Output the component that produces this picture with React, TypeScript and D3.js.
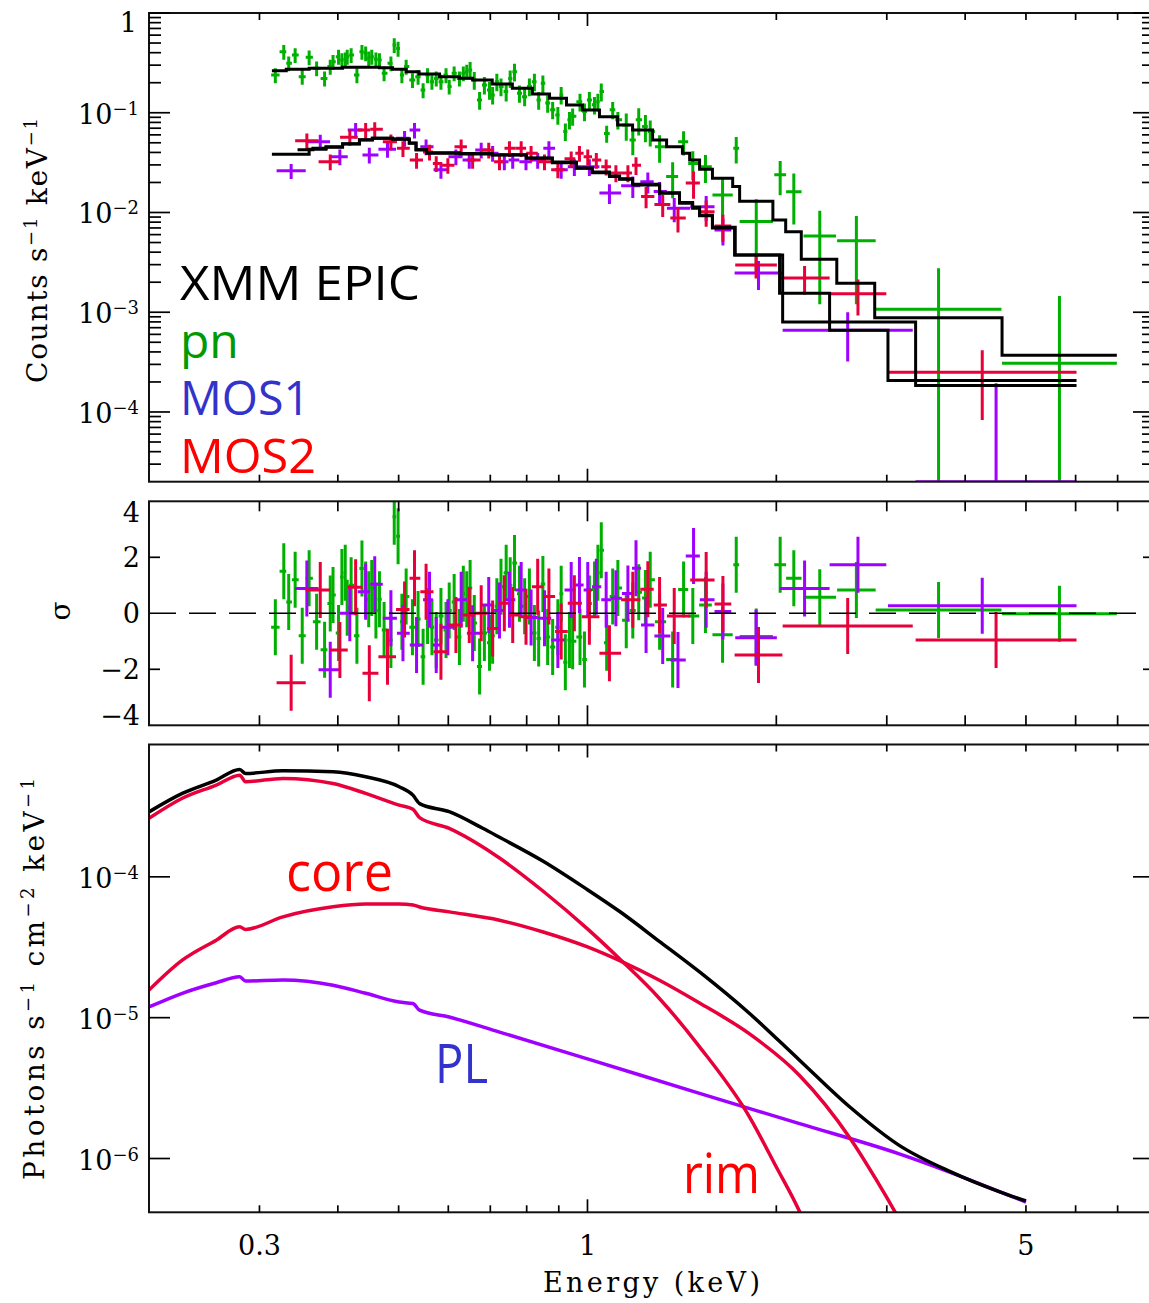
import React from "react";
import * as d3 from "d3";

/* ---------------- axes ---------------- */
const energyExtent: [number, number] = [0.2, 8];
const energyMinorTicks = [0.3, 0.4, 0.5, 0.6, 0.7, 0.8, 0.9, 2, 3, 4, 5, 6, 7];
const energyMajorTicks = [1];
const energyLabels = [0.3, 1, 5];

const rateExtent: [number, number] = [2e-5, 1];
const rateDecades = [1e-4, 1e-3, 1e-2, 1e-1, 1];
const sigmaExtent: [number, number] = [-4, 4];
const sigmaTicks = [-2, 2];
const sigmaLabels = [4, 2, 0, -2, -4];
const fluxExtent: [number, number] = [4.15e-7, 8.7e-4];
const fluxDecades = [1e-6, 1e-5, 1e-4];

/* ---------------- EPIC-pn spectrum (counts s^-1 keV^-1) ---------------- */
const pnEnergy = [
  0.318, 0.328, 0.334, 0.342, 0.351, 0.36, 0.37, 0.381, 0.389, 0.393,
  0.401, 0.406, 0.411, 0.414, 0.42, 0.429, 0.437, 0.443, 0.448, 0.453,
  0.46, 0.466, 0.474, 0.486, 0.492, 0.499, 0.506, 0.514, 0.526, 0.537,
  0.547, 0.556, 0.565, 0.574, 0.584, 0.595, 0.602, 0.613, 0.625, 0.634,
  0.642, 0.65, 0.66, 0.673, 0.685, 0.698, 0.706, 0.717, 0.728, 0.742,
  0.753, 0.765, 0.779, 0.794, 0.808, 0.823, 0.836, 0.849, 0.864, 0.88,
  0.897, 0.908, 0.922, 0.936, 0.947, 0.973, 0.989, 1.007, 1.026, 1.039,
  1.052, 1.073, 1.097, 1.118, 1.153, 1.181, 1.207, 1.237, 1.259, 1.303,
  1.367, 1.423, 1.472, 1.542,
];
const pnRate = [
  0.239, 0.409, 0.313, 0.379, 0.23, 0.36, 0.279, 0.221, 0.29, 0.325,
  0.365, 0.338, 0.344, 0.365, 0.379, 0.239, 0.409, 0.395, 0.351, 0.365,
  0.344, 0.338, 0.249, 0.313, 0.478, 0.44, 0.239, 0.29, 0.213, 0.23,
  0.169, 0.239, 0.205, 0.221, 0.205, 0.239, 0.183, 0.249, 0.221, 0.249,
  0.258, 0.268, 0.213, 0.134, 0.19, 0.169, 0.151, 0.205, 0.183, 0.163,
  0.221, 0.258, 0.157, 0.145, 0.183, 0.205, 0.134, 0.197, 0.125, 0.107,
  0.095, 0.151, 0.065, 0.085, 0.092, 0.129, 0.103, 0.134, 0.12, 0.129,
  0.163, 0.062, 0.107, 0.085, 0.0754, 0.0534, 0.085, 0.0727, 0.0648, 0.0456,
  0.0229, 0.0513, 0.031, 0.0287,
];
const pnError = [
  0.041, 0.07, 0.053, 0.064, 0.039, 0.061, 0.047, 0.038, 0.049, 0.055,
  0.062, 0.057, 0.058, 0.062, 0.064, 0.041, 0.07, 0.067, 0.06, 0.062,
  0.058, 0.057, 0.042, 0.053, 0.081, 0.075, 0.041, 0.049, 0.036, 0.039,
  0.029, 0.041, 0.035, 0.038, 0.035, 0.041, 0.031, 0.042, 0.038, 0.042,
  0.044, 0.054, 0.043, 0.027, 0.038, 0.034, 0.03, 0.041, 0.037, 0.033,
  0.044, 0.052, 0.031, 0.029, 0.037, 0.041, 0.027, 0.039, 0.025, 0.021,
  0.019, 0.03, 0.013, 0.017, 0.018, 0.026, 0.021, 0.027, 0.024, 0.026,
  0.033, 0.012, 0.021, 0.017, 0.023, 0.016, 0.026, 0.022, 0.019, 0.014,
  0.009, 0.014, 0.01, 0.009,
];
const pnSigma = [
  -0.5, 1.5, 0.4, 1.2, -0.8, 1.25, -0.3, -1.3, 0.35, 0.65,
  -0.7, 1.3, 1.45, 0.2, 1.0, -0.8, 1.6, 0.85, 0.5, 0.9,
  0.1, 0.5, -0.6, -0.95, 3.45, 2.75, -0.3, 0.6, -0.5, -0.2,
  -1.55, -0.1, -0.5, -0.95, -0.1, -0.6, 0.1, 0.4, -0.85, 0.7,
  0.5, 0.9, -0.35, -1.9, -0.7, -1.05, -0.8, 0.25, 0.95, 1.45,
  1.0, 1.8, 0.7, 0.25, 0.6, -0.7, -0.9, 1.05, -0.85, -1.2,
  -0.5, 0.7, -1.75, -0.95, -1.0, -0.85, -1.65, 0.35, 0.85, 1.45,
  2.25, -1.05, 0.6, 0.9, -0.25, 0.1, 0.75, 0.55, 1.2, -0.3,
  -1.65, 0.85, -0.1, 0.3,
];
// wide (grouped) pn channels
const pnWideLo = [1.582, 1.708, 1.748, 1.985, 2.073, 2.21, 2.5, 2.88, 4.58];
const pnWideHi = [1.704, 1.745, 1.975, 2.073, 2.194, 2.49, 2.88, 4.57, 6.98];
const pnWideRate = [0.015, 0.044, 0.0081, 0.0239, 0.0161, 0.0058, 0.0052, 0.00107, 0.000308];
const pnWideError = [0.0075, 0.013, 0.0055, 0.009, 0.0085, 0.0046, 0.004, 0.00169, 0.00115];
const pnWideSigma = [-0.77, 1.73, -0.83, 1.73, 1.25, 0.57, 0.83, 0.12, -0.02];

/* ---------------- MOS1 spectrum ---------------- */
const mos1Energy = [
  0.337, 0.375, 0.403, 0.427, 0.449, 0.48, 0.511, 0.53, 0.553, 0.584,
  0.617, 0.648, 0.677, 0.706, 0.737, 0.76, 0.798, 0.833, 0.868, 0.908,
  0.953, 1.007, 1.084, 1.181, 1.248, 1.303, 1.375, 1.546, 1.644,
];
const mos1Rate = [
  0.0262, 0.0512, 0.0362, 0.0671, 0.0377, 0.0431, 0.0555, 0.0671, 0.0456, 0.0268,
  0.0362, 0.0335, 0.0424, 0.0393, 0.0323, 0.0335, 0.0323, 0.0335, 0.044, 0.0268,
  0.0287, 0.0287, 0.0157, 0.0185, 0.0203, 0.0162, 0.011, 0.0114, 0.00668,
];
const mos1Error = [
  0.0045, 0.009, 0.0065, 0.012, 0.0068, 0.0078, 0.01, 0.012, 0.0082, 0.005,
  0.0065, 0.006, 0.0076, 0.0071, 0.0058, 0.006, 0.0058, 0.006, 0.0079, 0.005,
  0.0055, 0.0055, 0.0035, 0.0045, 0.0048, 0.004, 0.003, 0.0032, 0.002,
];
const mos1Sigma = [
  -2.48, 0.83, -1.31, 0.93, -2.14, -1.55, 0.14, 1.25, 0.77, -1.37,
  -0.42, -0.06, 0.0, -0.54, 0.36, -0.06, -0.12, 0.95, 0.6, -0.65,
  0.36, -0.12, -1.43, 0.48, 0.86, 0.3, -0.1, 1.19, 0.33,
];
const mos1WideLo = [1.716, 2.047, 3.335];
const mos1WideHi = [2.045, 3.3, 6.02];
const mos1WideRate = [0.00247, 0.00066, 0];
const mos1WideError = [0.0008, 0.00034, 0.000194];
const mos1WideSigma = [-1.49, -0.45, -0.95];

/* ---------------- MOS2 spectrum ---------------- */
const mos2Energy = [
  0.357, 0.389, 0.418, 0.443, 0.458, 0.486, 0.508, 0.534, 0.56, 0.574,
  0.599, 0.629, 0.656, 0.696, 0.724, 0.751, 0.784, 0.813, 0.854, 0.897,
  0.942, 0.971, 1.001, 1.033, 1.071, 1.11, 1.16, 1.195, 1.24, 1.318,
  1.394, 1.476, 1.546, 1.644,
];
const mos2Rate = [
  0.0524, 0.0323, 0.0568, 0.0671, 0.0682, 0.0512, 0.044, 0.0335, 0.0405, 0.031,
  0.0297, 0.0456, 0.0335, 0.0424, 0.0323, 0.044, 0.044, 0.0393, 0.0323, 0.0268,
  0.0346, 0.0393, 0.0362, 0.0335, 0.0287, 0.0249, 0.0249, 0.0297, 0.0145, 0.012,
  0.0088, 0.0197, 0.0102, 0.0073,
];
const mos2Error = [
  0.0095, 0.0058, 0.01, 0.012, 0.012, 0.0092, 0.0079, 0.006, 0.0073, 0.0056,
  0.0053, 0.0082, 0.006, 0.0076, 0.0058, 0.0079, 0.0079, 0.0071, 0.0058, 0.0048,
  0.0062, 0.0071, 0.0065, 0.006, 0.0052, 0.0048, 0.0048, 0.006, 0.0035, 0.003,
  0.0025, 0.006, 0.003, 0.0022,
];
const mos2Sigma = [
  0.89, -2.02, 0.0, 0.77, 1.04, -0.18, -0.71, -1.13, 0.48, -1.13,
  -0.5, 0.48, -0.71, 0.3, 0.1, 0.48, 0.83, -0.15, -0.18, -0.95,
  0.83, 1.01, 0.83, 0.95, 0.48, 0.54, 0.71, 1.61, -0.42, -0.81,
  -1.67, 2.05, 0.48, 0.06,
];
const mos2WideLo = [1.72, 2.024, 2.432, 3.013];
const mos2WideHi = [2.004, 2.432, 2.995, 6.02];
const mos2WideRate = [0.00298, 0.0022, 0.00153, 0.00025];
const mos2WideError = [0.0008, 0.0007, 0.0006, 0.000167];
const mos2WideSigma = [-0.87, 0.89, 1.73, 0.27];

/* ---------------- folded models (step functions) ---------------- */
const pnModelEdges = [
  0.314, 0.331, 0.36, 0.407, 0.466, 0.489, 0.514, 0.539, 0.581, 0.625,
  0.656, 0.705, 0.759, 0.817, 0.87, 0.926, 0.982, 1.045, 1.117, 1.18,
  1.27, 1.337, 1.417, 1.455, 1.509, 1.582, 1.704, 1.748, 1.975, 2.07,
  2.192, 2.497, 2.87, 4.58, 6.98,
];
const pnModelRate = [
  0.264, 0.273, 0.279, 0.2855, 0.283, 0.273, 0.258, 0.2446, 0.23, 0.2215,
  0.213, 0.194, 0.176, 0.154, 0.1396, 0.1196, 0.1066, 0.0913, 0.0754, 0.0671,
  0.0533, 0.0457, 0.0392, 0.0336, 0.0271, 0.022, 0.0182, 0.013, 0.0084, 0.0064,
  0.0034, 0.00195, 0.00088, 0.00037,
];
const mos1ModelEdges = [
  0.314, 0.36, 0.383, 0.407, 0.433, 0.454, 0.489, 0.52, 0.533, 0.554,
  0.625, 0.705, 0.799, 0.879, 0.96, 1.018, 1.084, 1.125, 1.18, 1.303,
  1.402, 1.471, 1.509, 1.582, 1.716, 2.047, 3.335, 6.02,
];
const mos1ModelRate = [
  0.0383, 0.043, 0.045, 0.0486, 0.0533, 0.0554, 0.0541, 0.0494, 0.0423, 0.0392,
  0.0386, 0.0377, 0.0349, 0.0316, 0.0277, 0.0251, 0.0229, 0.0215, 0.0189, 0.0156,
  0.0124, 0.011, 0.0093, 0.007, 0.00374, 0.0008, 0.000184,
];
const mos2ModelEdges = [
  0.345, 0.365, 0.383, 0.407, 0.433, 0.454, 0.489, 0.52, 0.533, 0.554,
  0.625, 0.705, 0.799, 0.879, 0.96, 1.018, 1.084, 1.125, 1.18, 1.303,
  1.402, 1.471, 1.509, 1.582, 1.72, 2.024, 2.432, 3.013, 6.02,
];
const mos2ModelRate = [
  0.0425, 0.044, 0.0455, 0.049, 0.0535, 0.0556, 0.0545, 0.0498, 0.0428, 0.0396,
  0.039, 0.038, 0.0352, 0.032, 0.028, 0.0254, 0.0232, 0.0218, 0.0192, 0.0158,
  0.0126, 0.0112, 0.0094, 0.0071, 0.00374, 0.00155, 0.00066, 0.000207,
];

/* ---------------- unfolded model components (photons s^-1 cm^-2 keV^-1) ---------------- */
const totalEnergy = [
  0.2, 0.226, 0.256, 0.279, 0.285, 0.327, 0.393, 0.443, 0.501, 0.527, 0.54, 0.602,
  0.681, 0.724, 0.85, 1.0, 1.13, 1.3, 1.509, 1.813, 2.178, 2.617, 3.14, 3.78, 4.54, 5.0,
];
const totalFlux = [
  2.89e-4, 3.91e-4, 4.86e-4, 5.79e-4, 5.42e-4, 5.66e-4, 5.57e-4, 5.13e-4, 4.36e-4,
  3.8e-4, 3.31e-4, 2.9e-4, 2.21e-4, 1.91e-4, 1.29e-4, 8.1e-5, 5.6e-5, 3.5e-5,
  2.11e-5, 1.07e-5, 4.99e-6, 2.33e-6, 1.24e-6, 8.1e-7, 5.8e-7, 5.0e-7,
];
const rimEnergy = [
  0.2, 0.226, 0.256, 0.279, 0.285, 0.327, 0.393, 0.443, 0.501, 0.527, 0.54, 0.602,
  0.681, 0.724, 0.85, 1.0, 1.13, 1.3, 1.509, 1.813, 2.0, 2.178, 2.25,
];
const rimFlux = [
  2.6e-4, 3.61e-4, 4.48e-4, 5.27e-4, 4.73e-4, 5.0e-4, 4.6e-4, 3.91e-4, 3.23e-4,
  3.02e-4, 2.63e-4, 2.21e-4, 1.63e-4, 1.36e-4, 7.9e-5, 4.27e-5, 2.57e-5, 1.38e-5,
  6.21e-6, 1.97e-6, 8.7e-7, 4.2e-7, 3.0e-7,
];
const coreEnergy = [
  0.2, 0.226, 0.256, 0.279, 0.285, 0.327, 0.393, 0.443, 0.501, 0.527, 0.54, 0.602,
  0.724, 0.85, 1.0, 1.13, 1.3, 1.509, 1.813, 2.178, 2.617, 2.884, 3.14, 3.25,
];
const coreFlux = [
  1.57e-5, 2.56e-5, 3.55e-5, 4.42e-5, 4.23e-5, 5.2e-5, 6.12e-5, 6.4e-5, 6.4e-5,
  6.31e-5, 6.1e-5, 5.64e-5, 4.92e-5, 4.06e-5, 3.18e-5, 2.52e-5, 1.85e-5, 1.27e-5,
  7.67e-6, 3.89e-6, 1.41e-6, 7.1e-7, 3.7e-7, 2.8e-7,
];
const plEnergy = [
  0.2, 0.226, 0.256, 0.279, 0.285, 0.327, 0.393, 0.443, 0.501, 0.527, 0.54, 0.602,
  0.724, 1.0, 1.509, 2.178, 3.14, 5.0,
];
const plFlux = [
  1.19e-5, 1.49e-5, 1.77e-5, 1.95e-5, 1.82e-5, 1.85e-5, 1.7e-5, 1.49e-5, 1.29e-5,
  1.26e-5, 1.13e-5, 1.01e-5, 7.9e-6, 5.1e-6, 2.9e-6, 1.77e-6, 1.08e-6, 4.9e-7,
];

/* ---------------- styling ---------------- */
const W = 1149;
const H = 1303;
const LEFT = 149;
const RIGHT = 1154;
const RATE_Y: [number, number] = [13, 481.7];
const SIG_Y: [number, number] = [501.3, 725.3];
const FLUX_Y: [number, number] = [744.5, 1212.3];

const SERIF = "'DejaVu Serif', 'Liberation Serif', serif";
const HAND = "'Open Sans', 'DejaVu Sans', sans-serif";
const GREEN = "#00b000";
const PURPLE = "#a000ff";
const RED = "#e8003a";

type Bin = { c: number; lo: number; hi: number; v: number; e: number; s: number };

function contiguousBins(E: number[], v: number[], e: number[], s: number[]): Bin[] {
  const l = E.map(Math.log10);
  return E.map((c, i) => {
    const lo = i > 0 ? (l[i - 1] + l[i]) / 2 : l[i] - (l[i + 1] - l[i]) / 2;
    const hi = i < E.length - 1 ? (l[i] + l[i + 1]) / 2 : l[i] + (l[i] - l[i - 1]) / 2;
    return { c, lo: 10 ** lo, hi: 10 ** hi, v: v[i], e: e[i], s: s[i] };
  });
}
function explicitBins(lo: number[], hi: number[], v: number[], e: number[], s: number[]): Bin[] {
  return lo.map((a, i) => ({ c: Math.sqrt(a * hi[i]), lo: a, hi: hi[i], v: v[i], e: e[i], s: s[i] }));
}

const pnBins = [
  ...contiguousBins(pnEnergy, pnRate, pnError, pnSigma),
  ...explicitBins(pnWideLo, pnWideHi, pnWideRate, pnWideError, pnWideSigma),
];
const mos1Bins = [
  ...contiguousBins(mos1Energy, mos1Rate, mos1Error, mos1Sigma),
  ...explicitBins(mos1WideLo, mos1WideHi, mos1WideRate, mos1WideError, mos1WideSigma),
];
const mos2Bins = [
  ...contiguousBins(mos2Energy, mos2Rate, mos2Error, mos2Sigma),
  ...explicitBins(mos2WideLo, mos2WideHi, mos2WideRate, mos2WideError, mos2WideSigma),
];

const x = d3.scaleLog().domain(energyExtent).range([LEFT, RIGHT]);
const yRate = d3.scaleLog().domain(rateExtent).range([RATE_Y[1], RATE_Y[0]]);
const ySig = d3.scaleLinear().domain(sigmaExtent).range([SIG_Y[1], SIG_Y[0]]);
const yFlux = d3.scaleLog().domain(fluxExtent).range([FLUX_Y[1], FLUX_Y[0]]);

function minorDecadeTicks(decades: number[], lo: number, hi: number) {
  const out: number[] = [];
  [decades[0] / 10, ...decades].forEach((d) => {
    for (let k = 2; k <= 9; k++) {
      const v = k * d;
      if (v > lo * 1.0001 && v < hi * 0.9999) out.push(v);
    }
  });
  return out;
}

function EnergyTicks({ y0, y1, major, minor }: { y0: number; y1: number; major: number; minor: number }) {
  return (
    <g stroke="#000" strokeWidth={1.7}>
      {energyMinorTicks.map((e) => (
        <g key={e}>
          <line x1={x(e)} x2={x(e)} y1={y0} y2={y0 + minor} />
          <line x1={x(e)} x2={x(e)} y1={y1} y2={y1 - minor} />
        </g>
      ))}
      {energyMajorTicks.map((e) => (
        <g key={"M" + e}>
          <line x1={x(e)} x2={x(e)} y1={y0} y2={y0 + major} />
          <line x1={x(e)} x2={x(e)} y1={y1} y2={y1 - major} />
        </g>
      ))}
    </g>
  );
}

function SideTicks({ ys, len }: { ys: number[]; len: number }) {
  return (
    <g stroke="#000" strokeWidth={1.7}>
      {ys.map((y, i) => (
        <g key={i}>
          <line x1={LEFT} x2={LEFT + len} y1={y} y2={y} />
          <line x1={RIGHT} x2={RIGHT - len} y1={y} y2={y} />
        </g>
      ))}
    </g>
  );
}

function Pow10({ xr, y, v }: { xr: number; y: number; v: number }) {
  const p = Math.round(Math.log10(v));
  if (p === 0)
    return (
      <text x={xr - 2} y={y} textAnchor="end">
        1
      </text>
    );
  return (
    <text x={xr} y={y} textAnchor="end">
      10
      <tspan dy={-9} fontSize={18}>
        {(p < 0 ? "\u2212" : "") + Math.abs(p)}
      </tspan>
    </text>
  );
}

function RateCrosses({ bins, color }: { bins: Bin[]; color: string }) {
  const floor = rateExtent[0];
  return (
    <g stroke={color} strokeWidth={3} fill="none">
      {bins.map((b, i) => {
        const yc = yRate(Math.max(b.v, floor));
        const yt = yRate(b.v + b.e);
        const yb = yRate(Math.max(b.v - b.e, floor));
        const xc = x(b.c);
        return (
          <g key={i}>
            <line x1={x(b.lo)} x2={x(b.hi)} y1={yc} y2={yc} />
            <line x1={xc} x2={xc} y1={yt} y2={yb} />
          </g>
        );
      })}
    </g>
  );
}

function SigmaCrosses({ bins, color }: { bins: Bin[]; color: string }) {
  return (
    <g stroke={color} strokeWidth={3} fill="none">
      {bins.map((b, i) => {
        const yc = ySig(b.s);
        const xc = x(b.c);
        return (
          <g key={i}>
            <line x1={x(b.lo)} x2={x(b.hi)} y1={yc} y2={yc} />
            <line x1={xc} x2={xc} y1={ySig(b.s + 1)} y2={ySig(b.s - 1)} />
          </g>
        );
      })}
    </g>
  );
}

const stepLine = d3
  .line<[number, number]>()
  .x((d) => x(d[0]))
  .y((d) => yRate(d[1]))
  .curve(d3.curveStepAfter);

function modelPath(edges: number[], rates: number[]) {
  const pts: [number, number][] = edges.map((e, i) => [e, rates[Math.min(i, rates.length - 1)]]);
  return stepLine(pts) || "";
}

const fluxLine = d3
  .line<[number, number]>()
  .x((d) => x(d[0]))
  .y((d) => yFlux(d[1]))
  .curve(d3.curveMonotoneX);

function compPath(E: number[], F: number[]) {
  return fluxLine(E.map((e, i) => [e, F[i]] as [number, number])) || "";
}

export default function App() {
  const rateMinor = minorDecadeTicks(rateDecades, rateExtent[0], rateExtent[1]);
  return (
    <svg
      width={W}
      height={H}
      viewBox={`0 0 ${W} ${H}`}
      style={{ position: "absolute", left: 0, top: 0, background: "#fff" }}
    >
      <defs>
        <clipPath id="clipRate">
          <rect x={LEFT} y={RATE_Y[0]} width={RIGHT - LEFT} height={RATE_Y[1] - RATE_Y[0]} />
        </clipPath>
        <clipPath id="clipSig">
          <rect x={LEFT} y={SIG_Y[0]} width={RIGHT - LEFT} height={SIG_Y[1] - SIG_Y[0]} />
        </clipPath>
        <clipPath id="clipFlux">
          <rect x={LEFT} y={FLUX_Y[0]} width={RIGHT - LEFT} height={FLUX_Y[1] - FLUX_Y[0]} />
        </clipPath>
      </defs>
      <rect x={0} y={0} width={W} height={H} fill="#fff" />

      {/* ---------- count-rate panel ---------- */}
      <g clipPath="url(#clipRate)">
        <RateCrosses bins={pnBins} color={GREEN} />
        <RateCrosses bins={mos1Bins} color={PURPLE} />
        <RateCrosses bins={mos2Bins} color={RED} />
        <g fill="none" stroke="#000" strokeWidth={3}>
          <path d={modelPath(pnModelEdges, pnModelRate)} />
          <path d={modelPath(mos1ModelEdges, mos1ModelRate)} />
          <path d={modelPath(mos2ModelEdges, mos2ModelRate)} />
        </g>
      </g>
      <rect
        x={LEFT}
        y={RATE_Y[0]}
        width={RIGHT - LEFT}
        height={RATE_Y[1] - RATE_Y[0]}
        fill="none"
        stroke="#111"
        strokeWidth={2}
      />
      <EnergyTicks y0={RATE_Y[0]} y1={RATE_Y[1]} major={13} minor={7} />
      <SideTicks ys={rateDecades.map((v) => yRate(v))} len={21} />
      <SideTicks ys={rateMinor.map((v) => yRate(v))} len={12} />

      {/* ---------- residual panel ---------- */}
      <g clipPath="url(#clipSig)">
        <SigmaCrosses bins={pnBins} color={GREEN} />
        <SigmaCrosses bins={mos2Bins} color={PURPLE} />
        <SigmaCrosses bins={mos1Bins} color={RED} />
        <line
          x1={LEFT}
          x2={RIGHT}
          y1={ySig(0)}
          y2={ySig(0)}
          stroke="#000"
          strokeWidth={1.6}
          strokeDasharray="27 13"
        />
      </g>
      <rect
        x={LEFT}
        y={SIG_Y[0]}
        width={RIGHT - LEFT}
        height={SIG_Y[1] - SIG_Y[0]}
        fill="none"
        stroke="#111"
        strokeWidth={2}
      />
      <EnergyTicks y0={SIG_Y[0]} y1={SIG_Y[1]} major={20} minor={10} />
      <SideTicks ys={sigmaTicks.map((v) => ySig(v))} len={11} />

      {/* ---------- model component panel ---------- */}
      <g clipPath="url(#clipFlux)" fill="none" strokeWidth={3.5} strokeLinejoin="round">
        <path d={compPath(plEnergy, plFlux)} stroke={PURPLE} />
        <path d={compPath(coreEnergy, coreFlux)} stroke={RED} />
        <path d={compPath(rimEnergy, rimFlux)} stroke={RED} />
        <path d={compPath(totalEnergy, totalFlux)} stroke="#000" />
      </g>
      <rect
        x={LEFT}
        y={FLUX_Y[0]}
        width={RIGHT - LEFT}
        height={FLUX_Y[1] - FLUX_Y[0]}
        fill="none"
        stroke="#111"
        strokeWidth={2}
      />
      <EnergyTicks y0={FLUX_Y[0]} y1={FLUX_Y[1]} major={13} minor={7} />
      <SideTicks ys={fluxDecades.map((v) => yFlux(v))} len={21} />

      {/* ---------- axis labels ---------- */}
      <g fontFamily={SERIF} fontSize={27} fill="#000">
        {rateDecades.map((v) => (
          <Pow10 key={v} xr={139} y={Math.max(yRate(v) + 11, RATE_Y[0] + 19)} v={v} />
        ))}
        {fluxDecades.map((v) => (
          <Pow10 key={v} xr={139} y={yFlux(v) + 11} v={v} />
        ))}
        {sigmaLabels.map((s) => (
          <text
            key={s}
            x={140}
            y={Math.min(Math.max(ySig(s) + 10, SIG_Y[0] + 20.4), SIG_Y[1])}
            textAnchor="end"
          >
            {(s < 0 ? "\u2212" : "") + Math.abs(s)}
          </text>
        ))}
        {energyLabels.map((e) => (
          <text key={e} x={x(e)} y={1255} textAnchor="middle">
            {e}
          </text>
        ))}
        <text x={651.5} y={1292} textAnchor="middle" fontSize={27} textLength={217} lengthAdjust="spacing">
          Energy (keV)
        </text>
        <text
          transform="translate(47,250.5) rotate(-90)"
          textAnchor="middle"
          fontSize={28}
          textLength={265}
          lengthAdjust="spacing"
        >
          Counts s<tspan dy={-10} fontSize={18}>{"\u22121"}</tspan>
          <tspan dy={10}> keV</tspan>
          <tspan dy={-10} fontSize={18}>{"\u22121"}</tspan>
        </text>
        <text transform="translate(70,611) rotate(-90)" textAnchor="middle" fontSize={28}>
          σ
        </text>
        <text
          transform="translate(44,979) rotate(-90)"
          textAnchor="middle"
          fontSize={28}
          textLength={402}
          lengthAdjust="spacing"
        >
          Photons s<tspan dy={-10} fontSize={18}>{"\u22121"}</tspan>
          <tspan dy={10}> cm</tspan>
          <tspan dy={-10} fontSize={18}>{"\u22122"}</tspan>
          <tspan dy={10}> keV</tspan>
          <tspan dy={-10} fontSize={18}>{"\u22121"}</tspan>
        </text>
      </g>

      {/* ---------- annotations ---------- */}
      <g fontFamily={HAND} fontSize={48}>
        <text x={180} y={300} fill="#000" textLength={240} lengthAdjust="spacingAndGlyphs">
          XMM EPIC
        </text>
        <text x={180} y={358} fill="#009900">
          pn
        </text>
        <text x={180} y={415} fill="#3333cc" textLength={130} lengthAdjust="spacingAndGlyphs">
          MOS1
        </text>
        <text x={180} y={473} fill="#ff0000" textLength={136} lengthAdjust="spacingAndGlyphs">
          MOS2
        </text>
      </g>
      <g fontFamily={HAND} fontSize={54}>
        <text x={286} y={891} fill="#ff0000" textLength={107} lengthAdjust="spacingAndGlyphs">
          core
        </text>
        <text x={683} y={1193} fill="#ff0000" textLength={77} lengthAdjust="spacingAndGlyphs">
          rim
        </text>
        <text x={435} y={1083} fill="#3333cc" textLength={53} lengthAdjust="spacingAndGlyphs">
          PL
        </text>
      </g>
    </svg>
  );
}
